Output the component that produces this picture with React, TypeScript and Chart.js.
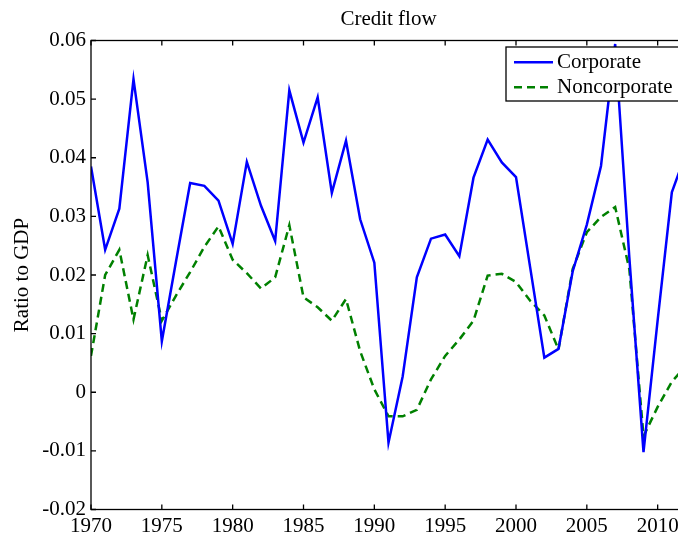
import React, { useEffect, useRef } from "react";
import { Chart, registerables } from "chart.js";

Chart.register(...registerables);

const years = [
  1970, 1971, 1972, 1973, 1974, 1975, 1976, 1977, 1978, 1979,
  1980, 1981, 1982, 1983, 1984, 1985, 1986, 1987, 1988, 1989,
  1990, 1991, 1992, 1993, 1994, 1995, 1996, 1997, 1998, 1999,
  2000, 2001, 2002, 2003, 2004, 2005, 2006, 2007, 2008, 2009,
  2010, 2011, 2012,
];

const corporate = [
  0.0385, 0.0243, 0.0313, 0.0534, 0.0358, 0.0087, 0.0223, 0.0357, 0.0352, 0.0327,
  0.0253, 0.0393, 0.0318, 0.0258, 0.0515, 0.0426, 0.0503, 0.034, 0.0429, 0.0295,
  0.0221, -0.0086, 0.0027, 0.0196, 0.0262, 0.0269, 0.0232, 0.0366, 0.0431, 0.0392,
  0.0367, 0.0213, 0.0059, 0.0074, 0.0206, 0.0286, 0.0386, 0.0594, 0.023, -0.0102,
  0.0123, 0.0341, 0.0408,
];

const noncorporate = [
  0.0062, 0.02, 0.0243, 0.0124, 0.0234, 0.0122, 0.0165, 0.0205, 0.0248, 0.0283,
  0.0226, 0.0203, 0.0177, 0.0196, 0.0285, 0.0162, 0.0145, 0.0122, 0.0159, 0.007,
  0.0005, -0.0041, -0.0041, -0.003, 0.0022, 0.0062, 0.009, 0.0122, 0.0199, 0.0202,
  0.0188, 0.0156, 0.0131, 0.0073, 0.021, 0.0273, 0.0299, 0.0316, 0.021, -0.0075,
  -0.0025, 0.0018, 0.0045,
];

const xTicks = [1970, 1975, 1980, 1985, 1990, 1995, 2000, 2005, 2010];
const yTicks = [-0.02, -0.01, 0, 0.01, 0.02, 0.03, 0.04, 0.05, 0.06];

const titleText = "Credit flow";
const yTitle = "Ratio to GDP";
const seriesNames = ["Corporate", "Noncorporate"];

const FONT = "'Liberation Serif', 'Times New Roman', serif";
const BLUE = "#0000ff";
const GREEN = "#008000";

const framePlugin = {
  id: "frame",
  afterDatasetsDraw(chart: any) {
    const { ctx, chartArea } = chart;
    const { left, right, top, bottom } = chartArea;
    const xs = chart.scales.x;
    const ys = chart.scales.y;
    ctx.save();
    ctx.strokeStyle = "#000";
    ctx.lineWidth = 1.3;
    ctx.strokeRect(left, top, right - left, bottom - top);
    const tl = 5;
    ctx.beginPath();
    xTicks.forEach((v) => {
      const px = xs.getPixelForValue(v);
      ctx.moveTo(px, bottom);
      ctx.lineTo(px, bottom - tl);
      ctx.moveTo(px, top);
      ctx.lineTo(px, top + tl);
    });
    yTicks.forEach((v) => {
      const py = ys.getPixelForValue(v);
      ctx.moveTo(left, py);
      ctx.lineTo(left + tl, py);
      ctx.moveTo(right, py);
      ctx.lineTo(right - tl, py);
    });
    ctx.stroke();
    ctx.restore();
  },
  afterDraw(chart: any) {
    const { ctx } = chart;
    ctx.save();
    const bx = 506;
    const by = 47;
    const bw = 176;
    const bh = 54;
    ctx.fillStyle = "#fff";
    ctx.fillRect(bx, by, bw, bh);
    ctx.strokeStyle = "#000";
    ctx.lineWidth = 1.3;
    ctx.strokeRect(bx, by, bw, bh);
    const rows = [
      { name: seriesNames[0], color: BLUE, dash: [] as number[], y: 62.3 },
      { name: seriesNames[1], color: GREEN, dash: [8, 5], y: 87.3 },
    ];
    rows.forEach((r) => {
      ctx.beginPath();
      ctx.setLineDash(r.dash);
      ctx.strokeStyle = r.color;
      ctx.lineWidth = 2.5;
      ctx.moveTo(514, r.y);
      ctx.lineTo(553, r.y);
      ctx.stroke();
      ctx.setLineDash([]);
      ctx.fillStyle = "#000";
      ctx.font = `21px ${FONT}`;
      ctx.textBaseline = "middle";
      ctx.textAlign = "left";
      ctx.fillText(r.name, 557, r.y);
    });
    ctx.restore();
  },
};

export default function App() {
  const canvasRef = useRef<HTMLCanvasElement | null>(null);

  useEffect(() => {
    document.body.style.margin = "0";
    const canvas = canvasRef.current;
    if (!canvas) return;
    const tickFont = { family: FONT, size: 21, weight: "normal" as const };
    const chart = new Chart(canvas, {
      type: "line",
      data: {
        datasets: [
          {
            label: seriesNames[0],
            data: years.map((y, i) => ({ x: y, y: corporate[i] })),
            borderColor: BLUE,
            borderWidth: 2.5,
            pointRadius: 0,
            tension: 0,
            fill: false,
          },
          {
            label: seriesNames[1],
            data: years.map((y, i) => ({ x: y, y: noncorporate[i] })),
            borderColor: GREEN,
            borderWidth: 2.5,
            borderDash: [8, 5],
            pointRadius: 0,
            tension: 0,
            fill: false,
          },
        ],
      },
      options: {
        responsive: false,
        animation: false,
        devicePixelRatio: 1,
        layout: { padding: { left: 0, right: 14, top: 0, bottom: 0 } },
        plugins: {
          legend: { display: false },
          tooltip: { enabled: false },
          title: {
            display: true,
            text: titleText,
            fullSize: false,
            color: "#000",
            font: { family: FONT, size: 21, weight: "normal" },
            padding: { top: 6.4, bottom: 8.9 },
          },
        },
        scales: {
          x: {
            type: "linear",
            min: 1970,
            max: 2012,
            grid: { display: false, drawTicks: false },
            border: { display: false },
            afterBuildTicks: (s: any) => {
              s.ticks = xTicks.map((v) => ({ value: v }));
            },
            afterFit: (s: any) => {
              s.height = 27.5;
            },
            ticks: {
              autoSkip: false,
              maxRotation: 0,
              padding: 4,
              color: "#000",
              font: tickFont,
              callback: (v: any) => String(v),
            },
          },
          y: {
            type: "linear",
            min: -0.02,
            max: 0.06,
            grid: { display: false, drawTicks: false },
            border: { display: false },
            afterBuildTicks: (s: any) => {
              s.ticks = yTicks.map((v) => ({ value: v }));
            },
            afterFit: (s: any) => {
              s.width = 91;
            },
            ticks: {
              autoSkip: false,
              padding: 5,
              color: "#000",
              font: tickFont,
              callback: (v: any) => (Math.abs(v) < 1e-9 ? "0" : Number(v).toFixed(2)),
            },
            title: {
              display: true,
              text: yTitle,
              color: "#000",
              font: { family: FONT, size: 21, weight: "normal" },
              padding: { top: 10, bottom: 0 },
            },
          },
        },
      },
      plugins: [framePlugin],
    });
    return () => chart.destroy();
  }, []);

  return (
    <div
      style={{
        position: "fixed",
        left: 0,
        top: 0,
        width: 678,
        height: 537,
        overflow: "hidden",
        background: "#fff",
      }}
    >
      <canvas ref={canvasRef} width={700} height={537} style={{ width: 700, height: 537, display: "block" }} />
    </div>
  );
}
